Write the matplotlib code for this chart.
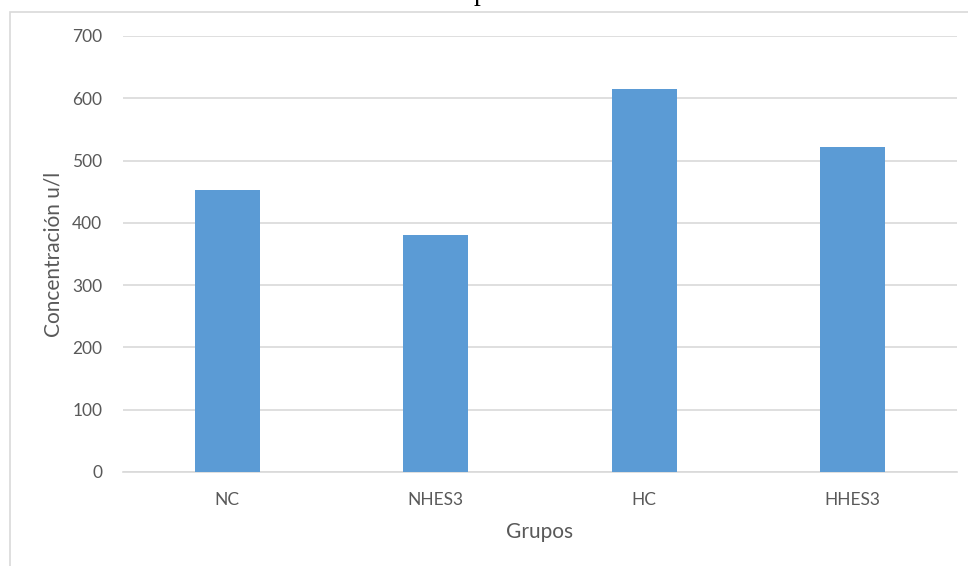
import matplotlib.pyplot as plt
from matplotlib.patches import Rectangle

# Concentración media por grupo
grupos = ["NC", "NHES3", "HC", "HHES3"]
concentracion = [453, 380, 615, 521]
y_ticks = [0, 100, 200, 300, 400, 500, 600, 700]

BAR_COLOR = "#5b9bd5"
GRID_COLOR = "#d9d9d9"
TEXT_COLOR = "#595959"

plt.rcParams["font.family"] = ["Lato", "DejaVu Sans"]

fig = plt.figure(figsize=(9.68, 5.66), dpi=100)

# chart frame, cut off on the right and bottom
fig.patches.append(Rectangle((10 / 968, -0.1), 1.2, 1 - 12 / 566 + 0.1,
                             transform=fig.transFigure, fill=False,
                             edgecolor=GRID_COLOR, linewidth=1.2))

# tail of the caption above the frame
fig.text(481 / 968, 1.0, "p", family="Liberation Serif",
         fontsize=20, ha="center", va="baseline", color="black")

ax = fig.add_axes([123 / 968, 1 - 472 / 566, 834 / 968, 436 / 566])
ax.bar(range(len(grupos)), concentracion, width=0.31, color=BAR_COLOR, zorder=3)

ax.set_xlim(-0.5, len(grupos) - 0.5)
ax.set_ylim(0, 700)
ax.set_yticks(y_ticks)
ax.set_xticks(range(len(grupos)))
ax.set_xticklabels(grupos)

ax.yaxis.grid(True, color=GRID_COLOR, linewidth=1.2, zorder=0)
ax.set_axisbelow(True)
for side in ("top", "right", "left"):
    ax.spines[side].set_visible(False)
ax.spines["bottom"].set_color(GRID_COLOR)
ax.spines["bottom"].set_linewidth(1.2)

ax.tick_params(axis="both", length=0, labelsize=12.5, labelcolor=TEXT_COLOR)
ax.tick_params(axis="y", pad=15)
ax.tick_params(axis="x", pad=14.5)

ax.set_xlabel("Grupos", fontsize=15, color=TEXT_COLOR, labelpad=10)
ax.set_ylabel("Concentración u/l", fontsize=15, color=TEXT_COLOR, labelpad=6)

fig.savefig("out.png", dpi=100)
